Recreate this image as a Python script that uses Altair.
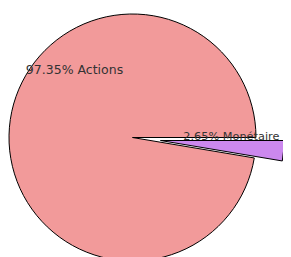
import math
import altair as alt
import pandas as pd

categories = ["Monétaire", "Actions"]
values = [2.65, 97.35]
colors = ["#CC88EE", "#F29A9A"]

df = pd.DataFrame({"category": categories, "value": values, "order": [0, 1]})
df["label"] = [f"{v:.2f}% {c}" for c, v in zip(categories, values)]

CX, CY, R = 124.5, 129.5, 123.5
theta_scale = alt.Scale(domain=[0, 100], range=[math.pi / 2, math.pi / 2 + 2 * math.pi])
color_scale = alt.Scale(domain=categories, range=colors)

base = (
    alt.Chart(df)
    .transform_window(end="sum(value)", sort=[alt.SortField("order")], frame=[None, 0])
    .transform_calculate(start="datum.end - datum.value", mid="datum.end - datum.value / 2")
)

def arc_layer(cat, xo, yo):
    return base.transform_filter(alt.datum.category == cat).mark_arc(
        stroke="black", strokeWidth=1, xOffset=xo, yOffset=yo
    ).encode(
        theta=alt.Theta("start:Q", scale=theta_scale),
        theta2="end:Q",
        radius=alt.value(R),
        x=alt.value(CX),
        y=alt.value(CY),
        color=alt.Color("category:N", scale=color_scale, legend=None),
    )

def text_layer(cat, radius, dx, dy, align, size):
    return base.transform_filter(alt.datum.category == cat).mark_text(
        font="DejaVu Sans", fontSize=size, color="#333333", align=align, baseline="middle",
        dx=dx, dy=dy,
    ).encode(
        theta=alt.Theta("mid:Q", scale=theta_scale),
        radius=alt.value(radius),
        x=alt.value(CX),
        y=alt.value(CY),
        text="label:N",
    )

chart = alt.layer(
    arc_layer("Actions", 0, 0),
    arc_layer("Monétaire", 28, 3),
    text_layer("Actions", 90, 31.7, -60, "center", 12.5),
    text_layer("Monétaire", 52, -1, -4.8, "left", 11.3),
).properties(
    width=275, height=249, padding=0, autosize="none"
).configure_view(stroke=None)

chart.save("out.html", embed_options={"renderer": "svg", "actions": False})
